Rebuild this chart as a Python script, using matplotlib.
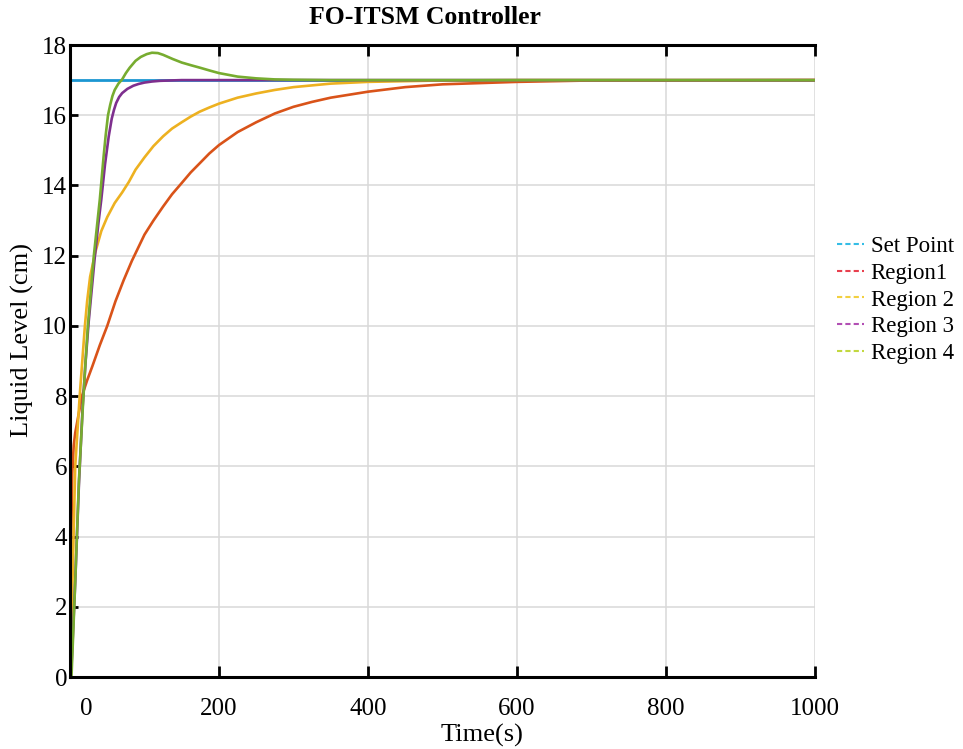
import matplotlib
matplotlib.use("Agg")
import matplotlib.pyplot as plt
from matplotlib.lines import Line2D
from matplotlib.transforms import ScaledTranslation

plt.rcParams['font.family'] = ['Liberation Serif', 'DejaVu Serif']

# datos
t_sp = [0, 1000]
set_point = [17, 17]

t_r1 = [0, 1, 3, 5, 7, 10, 16, 23, 30, 40, 50, 61, 72, 83, 100, 112, 125, 137,
        150, 162, 175, 187, 200, 225, 250, 275, 300, 325, 350, 400, 450, 500,
        600, 700, 1000]
region1 = [0, 3.0, 5.8, 6.6, 6.95, 7.3, 8.0, 8.45, 8.85, 9.45, 10.0, 10.7, 11.3,
           11.85, 12.6, 13.0, 13.4, 13.75, 14.07, 14.37, 14.65, 14.91, 15.15,
           15.52, 15.8, 16.05, 16.24, 16.38, 16.5, 16.67, 16.8, 16.88, 16.95,
           16.99, 17.0]

t_r2 = [0, 2, 7, 13, 20, 23, 27, 34, 42, 50, 60, 70, 79, 88, 100, 112, 125, 137,
        150, 162, 174, 187, 200, 225, 250, 275, 300, 350, 400, 500, 600, 1000]
region2 = [0, 1.5, 6.0, 8.0, 10.0, 10.7, 11.4, 12.1, 12.7, 13.1, 13.5, 13.8,
           14.1, 14.45, 14.8, 15.12, 15.4, 15.62, 15.8, 15.96, 16.1, 16.22,
           16.33, 16.5, 16.62, 16.72, 16.8, 16.9, 16.95, 16.99, 17.0, 17.0]

t_r3 = [0, 2, 7, 12, 17, 21, 25, 29, 33, 38, 42, 47, 52, 56, 59, 62, 66, 70, 77,
        85, 92, 100, 110, 121, 135, 150, 200, 1000]
region3 = [0, 0.3, 2.7, 5.5, 7.7, 9.0, 10.1, 11.0, 11.9, 12.9, 13.6, 14.6, 15.4,
           15.9, 16.15, 16.35, 16.52, 16.63, 16.75, 16.84, 16.89, 16.93, 16.96,
           16.98, 16.99, 17.0, 17.0, 17.0]

t_r4 = [0, 2, 7, 12, 17, 20, 24, 28, 32, 36, 40, 45, 48, 51, 54, 57, 60, 65, 70,
        75, 80, 88, 95, 103, 110, 118, 125, 138, 150, 163, 175, 188, 200, 225,
        250, 275, 300, 350, 1000]
region4 = [0, 0, 2.7, 5.6, 7.6, 8.7, 10.0, 11.0, 12.0, 12.8, 13.6, 14.8, 15.45,
           16.0, 16.3, 16.55, 16.72, 16.9, 17.02, 17.2, 17.35, 17.55, 17.66,
           17.74, 17.78, 17.77, 17.72, 17.6, 17.5, 17.42, 17.35, 17.27, 17.2,
           17.1, 17.05, 17.02, 17.01, 17.0, 17.0]

labels = ['Set Point', 'Region1', 'Region 2', 'Region 3', 'Region 4']
line_colors = ['#1b96d2', '#d95319', '#edb120', '#7e2f8e', '#77ac30']
legend_colors = ['#35bde6', '#e8404e', '#f2d040', '#b24fb4', '#c2d840']

fig = plt.figure(figsize=(9.63, 7.49), dpi=100)
ax = fig.add_axes([70/963, 1-677/749, (815-70)/963, (677-45)/749])

ax.plot(t_sp, set_point, color=line_colors[0], lw=2.0)
ax.plot(t_r1, region1, color=line_colors[1], lw=1.9)
ax.plot(t_r2, region2, color=line_colors[2], lw=1.9)
ax.plot(t_r3, region3, color=line_colors[3], lw=1.9)
ax.plot(t_r4, region4, color=line_colors[4], lw=1.9)

ax.set_xlim(0, 1000)
ax.set_ylim(0, 18)
ax.set_xticks(range(0, 1001, 200))
ax.set_yticks(range(0, 19, 2))
ax.grid(True, color='#d9d9d9', lw=1.1)

for s in ['top', 'bottom', 'left']:
    ax.spines[s].set_linewidth(2.2)
ax.spines['right'].set_visible(False)

ax.tick_params(axis='x', direction='in', length=8, width=2, top=True,
               labelsize=18, pad=15)
ax.tick_params(axis='y', direction='in', length=6, width=2, labelsize=18, pad=2)

# la etiqueta 0 aparece desplazada en la figura original
lbl0 = ax.get_xticklabels()[0]
lbl0.set_transform(lbl0.get_transform() + ScaledTranslation(0.16, 0, fig.dpi_scale_trans))

fig.text(425/963, 1-18/749, 'FO-ITSM Controller', ha='center', va='center',
         fontsize=18.5, fontweight='bold')
fig.text(482/963, 1-735/749, 'Time(s)', ha='center', va='center', fontsize=19)
fig.text(22/963, 1-340/749, 'Liquid Level (cm)', ha='center', va='center',
         rotation=90, fontsize=19)

handles = [Line2D([], [], color=c, ls=(0, (2.5, 1.5)), lw=1.5) for c in legend_colors]
fig.legend(handles, labels, loc='center left', bbox_to_anchor=(826/963, 1-300/749),
           frameon=False, fontsize=16.5, handlelength=1.15, handletextpad=0.3,
           labelspacing=0.25, borderpad=0)

fig.savefig('out.png', dpi=100)
